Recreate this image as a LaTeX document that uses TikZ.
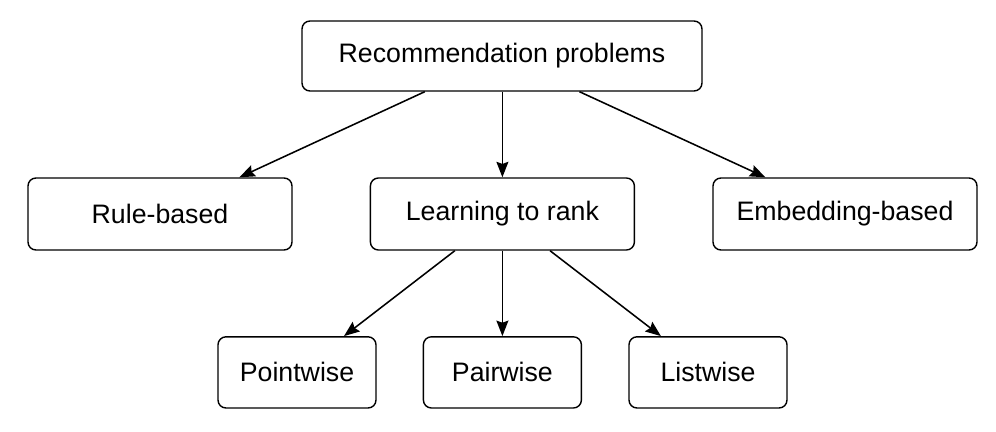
\documentclass[tikz,border=0pt]{standalone}
\usepackage{fontspec}
\setmainfont{Liberation Sans}
\usetikzlibrary{arrows.meta}
\tikzset{
  probbox/.style={draw, line width=1pt, rounded corners=0.2cm, align=center,
    font=\fontsize{19}{22}\selectfont, inner sep=0pt},
  wide/.style={probbox, minimum width=10cm, minimum height=1.75cm},
  middle/.style={probbox, minimum width=6.6cm, minimum height=1.8cm},
  small/.style={probbox, minimum width=3.95cm, minimum height=1.78cm},
  link/.style={line width=1.1pt, -{Stealth[length=11pt,width=8.5pt,inset=1.5pt]}}
}

\begin{document}
\begin{tikzpicture}
     \useasboundingbox (0,0) rectangle (24.9,-10.8);
     % Top level.
     \node [wide] (recommend) at (12.55,-1.4) {Recommendation problems};
     % Second level.
     \node [middle] (rulebased) at (4.0,-5.35) {Rule-based};
     \node [middle] (ltr) at (12.56,-5.35) {Learning to rank};
     \node [middle] (embedding) at (21.125,-5.35) {Embedding-based};
     % Third level.
     \node [small] (pointwise) at (7.425,-9.31) {Pointwise};
     \node [small] (pairwise) at (12.56,-9.31) {Pairwise};
     \node [small] (listwise) at (17.7,-9.31) {Listwise};
     % Arrows.
     \draw [link] (recommend) -- (rulebased);
     \draw [link] (recommend.south -| ltr.north) -- (ltr.north);
     \draw [link] (recommend) -- (embedding);
     \draw [link] (ltr) -- (pointwise);
     \draw [link] (ltr.south) -- (pairwise.north);
     \draw [link] (ltr) -- (listwise);
   \end{tikzpicture}
\end{document}
